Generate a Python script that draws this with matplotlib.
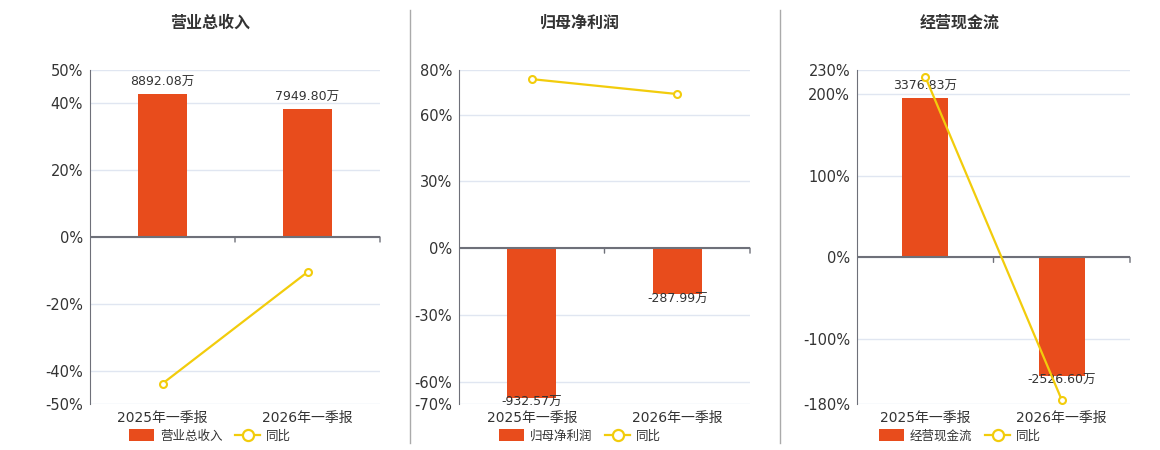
import matplotlib
matplotlib.use("Agg")
import matplotlib.pyplot as plt
from matplotlib.lines import Line2D
from matplotlib.patches import Patch

plt.rcParams["font.family"] = ["DejaVu Sans", "Noto Sans CJK SC"]

CATEGORIES = ["2025年一季报", "2026年一季报"]
TITLES = ["营业总收入", "归母净利润", "经营现金流"]

# bar values in 万, yoy line in %
REVENUE = [8892.08, 7949.80]
REVENUE_YOY = [-43.9, -10.5]
PROFIT = [-932.57, -287.99]
PROFIT_YOY = [75.9, 69.2]
CASHFLOW = [3376.83, -2526.60]
CASHFLOW_YOY = [221.8, -175.0]

PCT_LIMITS = [(-50, 50), (-70, 80), (-180, 230)]
PCT_TICKS = [[-50, -40, -20, 0, 20, 40, 50],
             [-70, -60, -30, 0, 30, 60, 80],
             [-180, -100, 0, 100, 200, 230]]
# percent height at which the largest bar sits
BAR_REF_PCT = [42.7, -67.4, 195.3]

BAR_COLOR = "#E84C1C"
LINE_COLOR = "#F2CC0C"
GRID_COLOR = "#E0E6F1"
AXIS_COLOR = "#6E7079"
TEXT_COLOR = "#333333"

W, H = 1160, 450
AX_BOXES = [(90, 380), (459, 750), (857, 1130)]
PANEL_CENTERS = [210, 580, 960]
AX_TOP, AX_BOTTOM = 70, 404


def draw_panel(fig, i, bars, yoy):
    x0, x1 = AX_BOXES[i]
    rect = [x0 / W, 1 - AX_BOTTOM / H, (x1 - x0) / W, (AX_BOTTOM - AX_TOP) / H]
    ax = fig.add_axes(rect)
    lo, hi = PCT_LIMITS[i]
    xs = range(len(CATEGORIES))

    ax.set_xlim(-0.5, len(CATEGORIES) - 0.5)
    ax.set_ylim(lo, hi)
    ax.set_yticks(PCT_TICKS[i])
    ax.set_yticklabels([f"{t}%" for t in PCT_TICKS[i]])
    ax.tick_params(axis="y", length=0, labelsize=10.5, labelcolor=TEXT_COLOR, pad=5)
    ax.grid(axis="y", color=GRID_COLOR, linewidth=1)
    ax.set_axisbelow(True)
    for s in ["top", "right", "bottom"]:
        ax.spines[s].set_visible(False)
    ax.spines["left"].set_color(AXIS_COLOR)
    ax.set_xticks([])
    for x, c in zip(xs, CATEGORIES):
        ax.text(x, -0.022, c, transform=ax.get_xaxis_transform(), ha="center",
                va="top", fontsize=10, color=TEXT_COLOR)

    # bars on their own scale, zero aligned with the percent axis
    axb = ax.twinx()
    k = max(bars, key=abs) / BAR_REF_PCT[i]
    axb.set_ylim(lo * k, hi * k)
    axb.set_xlim(ax.get_xlim())
    axb.axis("off")
    axb.bar(xs, bars, width=0.34, color=BAR_COLOR)
    for x, v in zip(xs, bars):
        axb.annotate(f"{v:.2f}万", (x, v), xytext=(0, 4 if v > 0 else 1.5),
                     textcoords="offset points", ha="center",
                     va="bottom" if v > 0 else "top", fontsize=9, color=TEXT_COLOR)
    axb.axhline(0, color=AXIS_COLOR, linewidth=1.5)
    for xb in [0.5, 1.5]:
        axb.annotate("", (xb, 0), xytext=(xb, -5), textcoords=("data", "offset pixels"),
                     arrowprops=dict(arrowstyle="-", color=AXIS_COLOR, lw=1,
                                     shrinkA=0, shrinkB=0))

    axl = ax.twinx()
    axl.set_ylim(lo, hi)
    axl.set_xlim(ax.get_xlim())
    axl.axis("off")
    axl.plot(xs, yoy, color=LINE_COLOR, linewidth=1.6, marker="o", markersize=5,
             markerfacecolor="white", markeredgecolor=LINE_COLOR, markeredgewidth=1.5,
             clip_on=False)

    fig.text(PANEL_CENTERS[i] / W, 1 - 23 / H, TITLES[i], ha="center", va="center",
             fontsize=11.5, fontweight="bold", color=TEXT_COLOR)

    handles = [Patch(facecolor=BAR_COLOR, edgecolor="none"),
               Line2D([], [], color=LINE_COLOR, linewidth=1.6, marker="o", markersize=8,
                      markerfacecolor="white", markeredgewidth=1.6)]
    fig.legend(handles, [TITLES[i], "同比"], loc="center",
               bbox_to_anchor=(PANEL_CENTERS[i] / W, 1 - 436 / H), ncol=2,
               frameon=False, fontsize=9, handlelength=2.0, handleheight=1.1,
               columnspacing=1.0, handletextpad=0.5, labelcolor=TEXT_COLOR)


fig = plt.figure(figsize=(W / 100, H / 100), dpi=100)
draw_panel(fig, 0, REVENUE, REVENUE_YOY)
draw_panel(fig, 1, PROFIT, PROFIT_YOY)
draw_panel(fig, 2, CASHFLOW, CASHFLOW_YOY)

for xs in [410, 780]:
    fig.add_artist(Line2D([xs / W, xs / W], [1 - 10 / H, 1 - 443 / H], color="#AAAAAA",
                          linewidth=1))

fig.savefig("out.png", dpi=100)
